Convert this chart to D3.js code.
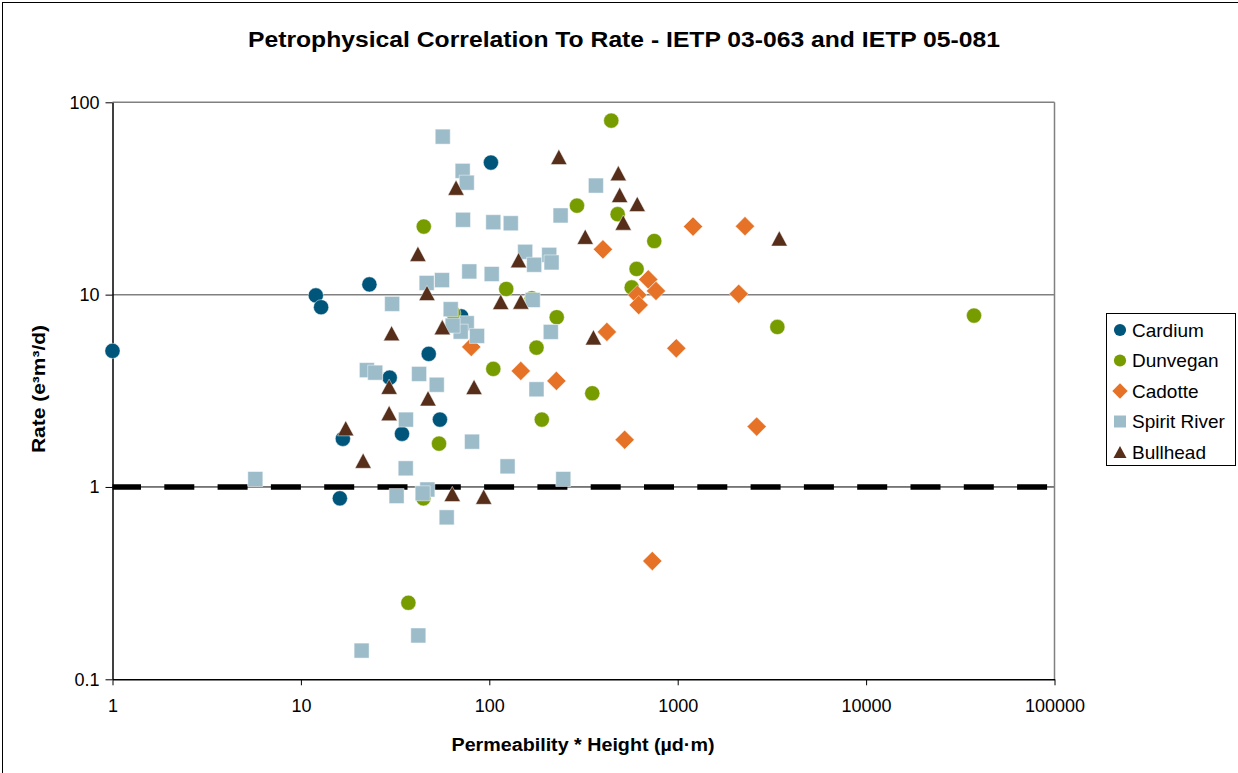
<!DOCTYPE html>
<html>
<head>
<meta charset="utf-8">
<script src="https://cdn.jsdelivr.net/npm/d3@7"></script>
<style>
  html, body { margin: 0; padding: 0; background: #fff; }
  svg { display: block; font-family: "Liberation Sans", Arial, sans-serif; }
</style>
</head>
<body>
<svg id="chart" width="1238" height="773"></svg>
<script>
// Permeability*height (µd·m) vs rate (e3m3/d), one array pair per formation
const cardiumX = [1, 12, 12.8, 23.1, 102, 16.7, 34.4, 16.1, 29.6, 47.7, 54.7, 71];
const cardiumY = [5.1, 9.9, 8.6, 11.3, 48.6, 1.78, 1.89, 0.873, 3.7, 4.92, 2.24, 7.7];

const dunveganX = [444, 44.9, 292, 480, 751, 605, 570, 123, 168, 228, 178, 105, 352, 190, 54.1, 44.7, 37.2, 3380, 37400, 64.4];
const dunveganY = [80.3, 22.6, 29.0, 26.2, 19.0, 13.6, 10.9, 10.7, 9.57, 7.63, 5.3, 4.11, 3.07, 2.24, 1.68, 0.873, 0.25, 6.79, 7.78, 8.0];

const cadotteX = [1206, 401, 698, 767, 610, 621, 421, 983, 80.2, 147, 227, 523, 2276, 2108, 2625, 733];
const cadotteY = [22.6, 17.2, 12.0, 10.45, 9.96, 8.83, 6.4, 5.26, 5.35, 4.01, 3.56, 1.76, 22.7, 10.1, 2.06, 0.412];

const spiritRiverX = [56.6, 72.2, 75.9, 368, 72.5, 105, 130, 239, 155, 208, 214, 173, 78.3, 103, 56.1, 46.5, 170, 62.4, 75.9, 70.5, 63.9, 86.1, 212, 42.4, 52.6, 178, 36.1, 81, 125, 36, 247, 46.9, 44.3, 32.2, 59.4, 42, 21, 5.73, 22.4, 24.8, 30.5];
const spiritRiverY = [66.3, 44, 38.2, 36.9, 24.5, 23.8, 23.5, 25.8, 16.7, 16.1, 14.7, 14.3, 13.2, 12.8, 11.9, 11.5, 9.38, 8.4, 7.1, 6.42, 6.9, 6.1, 6.4, 3.87, 3.4, 3.22, 2.24, 1.72, 1.28, 1.25, 1.1, 0.97, 0.927, 0.897, 0.695, 0.169, 0.141, 1.1, 4.05, 3.93, 8.95];

const bullheadX = [234, 484, 492, 610, 514, 66.6, 323, 41.8, 143, 46.7, 115, 147, 56.3, 357, 83, 47.3, 63.6, 93.4, 30.3, 29.4, 29.4, 17.3, 21.4, 3460];
const bullheadY = [52, 42.8, 33, 29.6, 23.7, 36, 20, 16.3, 15.1, 10.2, 9.16, 9.2, 6.77, 6.0, 3.31, 2.89, 0.92, 0.89, 6.3, 3.32, 2.42, 2.02, 1.37, 19.6];

// Cut-off rate drawn as a dashed reference line
const cutoffX = [1, 100000];
const cutoffY = [1, 1];

const xTicks = [1, 10, 100, 1000, 10000, 100000];
const yTicks = [0.1, 1, 10, 100];

const seriesNames = ["Cardium", "Dunvegan", "Cadotte", "Spirit River", "Bullhead"];

const svg = d3.select("#chart");
const W = 1238, H = 773;

const plot = { left: 112.5, right: 1054.5, top: 102.3, bottom: 679.3 };

const x = d3.scaleLog().domain([1, 100000]).range([plot.left, plot.right]);
const y = d3.scaleLog().domain([0.1, 100]).range([plot.bottom, plot.top]);

// chart frame
svg.append("rect")
  .attr("x", 2.5).attr("y", 2.5).attr("width", W + 10).attr("height", H + 10)
  .attr("fill", "#fff").attr("stroke", "#000").attr("stroke-width", 1);

// title
svg.append("text")
  .attr("x", 624).attr("y", 47)
  .attr("text-anchor", "middle")
  .attr("font-weight", "bold").attr("font-size", 22)
  .attr("textLength", 752).attr("lengthAdjust", "spacingAndGlyphs")
  .text("Petrophysical Correlation To Rate - IETP 03-063 and IETP 05-081");

// horizontal gridlines
svg.append("g").selectAll("line")
  .data([10, 100])
  .join("line")
  .attr("x1", plot.left).attr("x2", plot.right)
  .attr("y1", d => y(d)).attr("y2", d => y(d))
  .attr("stroke", "#808080").attr("stroke-width", 1.5);

svg.append("line")
  .attr("x1", plot.left).attr("x2", plot.right)
  .attr("y1", y(1)).attr("y2", y(1))
  .attr("stroke", "#000").attr("stroke-width", 1);

// right edge of plot area
svg.append("line")
  .attr("x1", plot.right).attr("x2", plot.right)
  .attr("y1", plot.top).attr("y2", plot.bottom)
  .attr("stroke", "#808080").attr("stroke-width", 1.5);

// axes
const xAxis = d3.axisBottom(x).tickValues(xTicks).tickFormat(d3.format("d"))
  .tickSizeInner(6).tickSizeOuter(0).tickPadding(14);
const gx = svg.append("g").attr("transform", `translate(0,${plot.bottom})`).call(xAxis);
gx.select(".domain").attr("stroke", "#000").attr("stroke-width", 1.5);
gx.selectAll(".tick line").attr("stroke", "#000");
gx.selectAll(".tick text")
  .attr("font-family", "Liberation Sans, Arial, sans-serif")
  .attr("font-size", 18).attr("fill", "#000");

const yAxis = d3.axisLeft(y).tickValues(yTicks).tickFormat(d => d < 1 ? "0.1" : d3.format("d")(d))
  .tickSizeInner(7).tickSizeOuter(0).tickPadding(6);
const gy = svg.append("g").attr("transform", `translate(${plot.left},0)`).call(yAxis);
gy.select(".domain").attr("stroke", "#000").attr("stroke-width", 1.5);
gy.selectAll(".tick line").attr("stroke", "#000");
gy.selectAll(".tick text")
  .attr("font-family", "Liberation Sans, Arial, sans-serif")
  .attr("font-size", 18).attr("fill", "#000");

// axis titles
svg.append("text")
  .attr("x", 583).attr("y", 751)
  .attr("text-anchor", "middle")
  .attr("font-weight", "bold").attr("font-size", 18)
  .attr("textLength", 263).attr("lengthAdjust", "spacingAndGlyphs")
  .text("Permeability * Height (µd·m)");

svg.append("text")
  .attr("transform", "translate(45,389) rotate(-90)")
  .attr("text-anchor", "middle")
  .attr("font-weight", "bold").attr("font-size", 18)
  .attr("textLength", 128).attr("lengthAdjust", "spacingAndGlyphs")
  .text("Rate (e³m³/d)");

// dashed cut-off line
const cutoff = cutoffX.map((v, i) => [v, cutoffY[i]]);
svg.append("path")
  .datum(cutoff)
  .attr("d", d3.line().x(d => x(d[0])).y(d => y(d[1])))
  .attr("fill", "none")
  .attr("stroke", "#000")
  .attr("stroke-width", 5.5)
  .attr("stroke-dasharray", "30,23.3")
  .attr("stroke-dashoffset", 1.5);

// marker shapes, centred on (0,0)
const shapes = {
  circle: s => `M${s},0A${s},${s},0,1,1,${-s},0A${s},${s},0,1,1,${s},0Z`,
  square: s => `M${-s},${-s}H${s}V${s}H${-s}Z`,
  diamond: s => `M0,${-s}L${s},0L0,${s}L${-s},0Z`,
  triangle: s => `M0,${-s}L${s * 1.07},${s}L${-s * 1.07},${s}Z`
};

const series = [
  { name: seriesNames[0], xs: cardiumX, ys: cardiumY, color: "#00557A", shape: "circle", size: 7.6 },
  { name: seriesNames[1], xs: dunveganX, ys: dunveganY, color: "#779C00", shape: "circle", size: 7.6 },
  { name: seriesNames[2], xs: cadotteX, ys: cadotteY, color: "#E57226", shape: "diamond", size: 9.6 },
  { name: seriesNames[3], xs: spiritRiverX, ys: spiritRiverY, color: "#9CBCCA", shape: "square", size: 7.5 },
  { name: seriesNames[4], xs: bullheadX, ys: bullheadY, color: "#562E1A", shape: "triangle", size: 7.6 }
];

const marks = svg.append("g");
series.forEach(s => {
  const pts = s.xs.map((v, i) => [v, s.ys[i]]);
  marks.append("g").selectAll("path")
    .data(pts)
    .join("path")
    .attr("transform", d => `translate(${x(d[0])},${y(d[1])})`)
    .attr("d", shapes[s.shape](s.size))
    .attr("fill", s.color)
    .attr("stroke", "#fff")
    .attr("stroke-opacity", 0.6)
    .attr("stroke-width", 0.8);
});

// legend
const legend = svg.append("g");
legend.append("rect")
  .attr("x", 1106.5).attr("y", 313.5).attr("width", 129).attr("height", 152)
  .attr("fill", "#fff").attr("stroke", "#000").attr("stroke-width", 1);

const legendY = d3.scalePoint().domain(seriesNames).range([330, 452]);
series.forEach(s => {
  const g = legend.append("g").attr("transform", `translate(0,${legendY(s.name)})`);
  g.append("path")
    .attr("transform", "translate(1120,0)")
    .attr("d", shapes[s.shape](s.size * 0.8))
    .attr("fill", s.color);
  g.append("text")
    .attr("x", 1132).attr("y", 0).attr("dy", "0.35em")
    .attr("font-size", 19).attr("fill", "#000")
    .text(s.name);
});
</script>
</body>
</html>
